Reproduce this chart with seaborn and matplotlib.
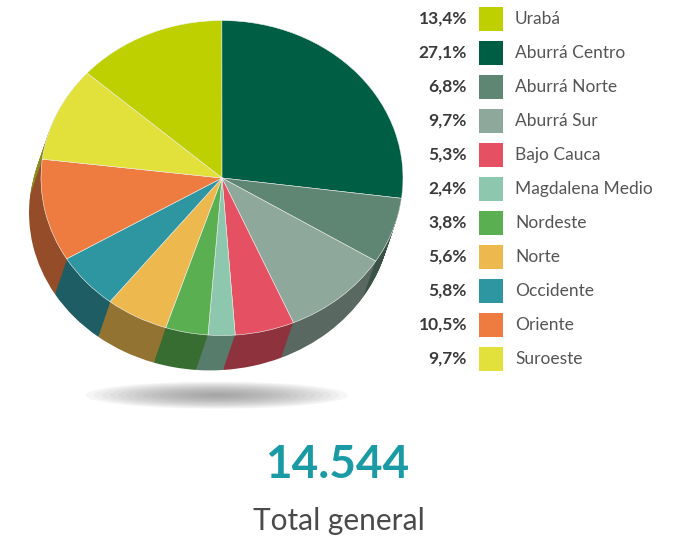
import numpy as np
import matplotlib
matplotlib.use("Agg")
import matplotlib.pyplot as plt
from matplotlib.patches import Ellipse, Rectangle
from matplotlib.transforms import Affine2D
import seaborn as sns

regions = ["Urabá", "Aburrá Centro", "Aburrá Norte", "Aburrá Sur", "Bajo Cauca",
           "Magdalena Medio", "Nordeste", "Norte", "Occidente", "Oriente", "Suroeste"]
pct = [13.4, 27.1, 6.8, 9.7, 5.3, 2.4, 3.8, 5.6, 5.8, 10.5, 9.7]
hex_colors = ["#BED000", "#005E45", "#5F8672", "#8FA89C", "#E55162", "#8DC8AE",
              "#5AAF50", "#EDB94F", "#2E96A0", "#EE7C40", "#E2E03A"]
total = 14544

sns.set_theme(style="white")
plt.rcParams['font.family'] = ['Lato', 'DejaVu Sans']

palette = sns.color_palette(hex_colors)
dark = [tuple(c * 0.62 for c in col) for col in palette]

W, H = 683, 542
fig = plt.figure(figsize=(W / 100, H / 100), dpi=100)
fig.patch.set_facecolor("white")

# pie axes, 181 px per data unit, centre at px (222, 178)
scale = 181.0
cx, cy = 222, 178
ax_w, ax_h = 440, 420
ax = fig.add_axes([0, 1 - ax_h / H, ax_w / W, ax_h / H])
ax.axis("off")

# soft shadow under the pie
for i in range(16):
    f = 1 - i / 16
    ax.add_patch(Ellipse((-0.03, -1.2), 1.45 * f, 0.15 * f,
                         color="0.5", alpha=0.065, lw=0))

start = 90 + pct[0] / 100 * 360
squash = Affine2D().scale(1, 0.87)

# side of the pie: stacked darker copies
dx, dy = -0.066, -0.193
for k in np.linspace(1, 0.02, 30):
    wedges, _ = ax.pie(pct, colors=dark, startangle=start, counterclock=False,
                       wedgeprops=dict(linewidth=0))
    for w in wedges:
        w.set_transform(squash + Affine2D().translate(dx * k, dy * k) + ax.transData)

# top face
wedges, _ = ax.pie(pct, colors=palette, startangle=start, counterclock=False,
                   wedgeprops=dict(linewidth=0.4, edgecolor="#f4f4f4"))
for w in wedges:
    w.set_transform(squash + ax.transData)
ax.set_xlim(-cx / scale, (ax_w - cx) / scale)
ax.set_ylim(-(ax_h - cy) / scale, cy / scale)
ax.set_aspect("auto")

# legend
row0, step = 19, 34
for i, (name, p, col) in enumerate(zip(regions, pct, palette)):
    yc = 1 - (row0 + i * step) / H
    fig.text(467 / W, yc, f"{p:.1f}%".replace(".", ","), ha="right", va="center",
             fontsize=12.5, fontweight="bold", color="#3a3a3a")
    fig.patches.append(Rectangle((479 / W, yc - 12 / H), 24 / W, 24 / H,
                                 transform=fig.transFigure, color=col, lw=0))
    fig.text(515 / W, yc, name, ha="left", va="center",
             fontsize=12.5, color="#555555")

fig.text(337 / W, 1 - 465 / H, f"{total:,}".replace(",", "."), ha="center", va="center",
         fontsize=33, fontweight="bold", color="#1A9AA4")
fig.text(339 / W, 1 - 521 / H, "Total general", ha="center", va="center",
         fontsize=21.5, color="#4a4a4a")

fig.savefig("out.png", dpi=100)
